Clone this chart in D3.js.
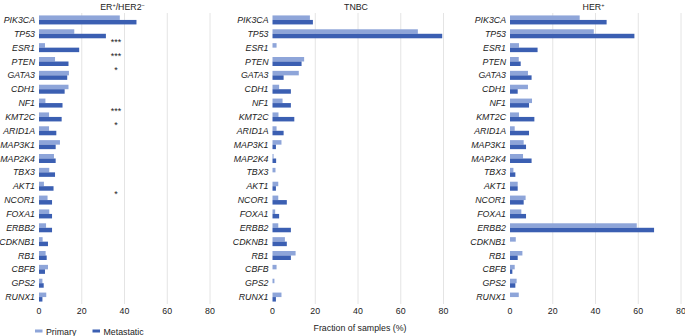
<!DOCTYPE html>
<html>
<head>
<meta charset="utf-8">
<script src="https://cdn.jsdelivr.net/npm/d3@7"></script>
<style>
  body { margin: 0; background: #fff; }
  text { font-family: "Liberation Sans", Arial, sans-serif; fill: #222; }
</style>
</head>
<body>
<svg id="chart"></svg>
<script>
const genes = ["PIK3CA","TP53","ESR1","PTEN","GATA3","CDH1","NF1","KMT2C","ARID1A","MAP3K1","MAP2K4",
  "TBX3","AKT1","NCOR1","FOXA1","ERBB2","CDKNB1","RB1","CBFB","GPS2","RUNX1"];

const erPrimary    = [37.8,16.5,2.8,7.5,14.0,13.8,3.0,4.7,4.7,9.8,7.0,4.8,2.3,4.0,4.8,3.3,1.7,3.1,4.2,1.6,3.4];
const erMetastatic = [45.6,31.3,18.8,13.8,13.2,12.0,11.0,10.6,8.1,7.8,7.8,7.5,6.8,6.1,6.1,6.1,4.2,3.6,2.8,2.2,1.6];
const erStars      = ["","***","***","*","","","***","*","","","","","*","","","","","","","",""];

const tnPrimary    = [17.5,68.0,1.9,14.8,12.3,3.1,4.7,2.8,1.9,4.2,0.5,1.4,2.7,2.7,1.25,2.7,5.8,10.8,1.9,0.9,4.2];
const tnMetastatic = [18.9,79.4,0,13.6,5.2,8.6,8.6,10.2,5.2,1.6,1.7,0,1.6,6.7,3.1,8.6,6.7,8.6,0,0,1.6];

const herPrimary    = [32.6,39.2,4.2,4.1,8.4,8.4,10.3,4.2,2.2,6.4,6.1,1.6,3.6,7.3,5.3,59.3,2.7,5.8,2.2,3.1,4.1];
const herMetastatic = [45.2,58.2,12.9,5.0,10.1,3.6,8.9,11.4,8.9,7.5,10.1,2.5,3.6,6.4,7.5,67.4,0,3.6,1.1,2.5,0];

const ticks = [0, 20, 40, 60, 80];

const width = 685, height = 336;
const svg = d3.select("#chart").attr("width", width).attr("height", height);

const lightColor = "#8ea5d9", darkColor = "#3b5fb2";

const panels = [
  { title: "ER+/HER2−", x0: 39, prim: erPrimary, meta: erMetastatic, stars: erStars },
  { title: "TNBC", x0: 272.5, prim: tnPrimary, meta: tnMetastatic },
  { title: "HER+", x0: 510, prim: herPrimary, meta: herMetastatic }
];

const y = d3.scaleBand().domain(genes).range([13, 304]);
const barH = 4.5;

panels.forEach((p, pi) => {
  const x = d3.scaleLinear().domain([0, 80]).range([p.x0, p.x0 + 171]);
  const g = svg.append("g");

  // grid
  g.selectAll(".grid")
    .data(ticks.slice(1))
    .join("line")
    .attr("x1", d => x(d)).attr("x2", d => x(d))
    .attr("y1", 13).attr("y2", 304)
    .attr("stroke", "#e4e4e4").attr("stroke-width", 1);

  // tick labels
  g.selectAll(".tick")
    .data(ticks)
    .join("text")
    .attr("x", d => x(d)).attr("y", 314)
    .attr("text-anchor", "middle")
    .style("font-size", "8.8px")
    .text(d => d);

  // title
  const t = g.append("text")
    .attr("x", (x(0) + x(80)) / 2 - 2).attr("y", 10)
    .attr("text-anchor", "middle")
    .style("font-size", "8.8px");
  if (pi === 0) {
    t.append("tspan").text("ER");
    t.append("tspan").text("+").attr("dy", -3).style("font-size", "5.5px");
    t.append("tspan").text("/HER2").attr("dy", 3);
    t.append("tspan").text("−").attr("dy", -3).style("font-size", "5.5px");
  } else if (pi === 2) {
    t.append("tspan").text("HER");
    t.append("tspan").text("+").attr("dy", -3).style("font-size", "5.5px");
  } else {
    t.text(p.title);
  }

  // gene labels
  g.selectAll(".gene")
    .data(genes)
    .join("text")
    .attr("x", x(0) - 4)
    .attr("y", d => y(d) + y.bandwidth() / 2 + 3)
    .attr("text-anchor", "end")
    .style("font-size", "8.8px")
    .style("font-style", "italic")
    .text(d => d);

  // primary bars
  g.selectAll(".prim")
    .data(genes)
    .join("rect")
    .attr("x", x(0))
    .attr("y", d => y(d) + y.bandwidth() / 2 - barH)
    .attr("width", (d, i) => x(p.prim[i]) - x(0))
    .attr("height", barH)
    .attr("fill", lightColor);

  // metastatic bars
  g.selectAll(".meta")
    .data(genes)
    .join("rect")
    .attr("x", x(0))
    .attr("y", d => y(d) + y.bandwidth() / 2)
    .attr("width", (d, i) => x(p.meta[i]) - x(0))
    .attr("height", barH)
    .attr("fill", darkColor);

  if (p.stars) {
    g.selectAll(".star")
      .data(genes)
      .join("text")
      .attr("x", x(36))
      .attr("y", d => y(d) + y.bandwidth() / 2 + 11)
      .attr("text-anchor", "middle")
      .style("font-size", "9px")
      .text((d, i) => p.stars[i]);
  }
});

// axis title
svg.append("text")
  .attr("x", 360).attr("y", 331)
  .attr("text-anchor", "middle")
  .style("font-size", "8.8px")
  .text("Fraction of samples (%)");

// legend
const legend = [["Primary", lightColor, 35], ["Metastatic", darkColor, 92.5]];
legend.forEach(([name, col, lx]) => {
  svg.append("rect").attr("x", lx).attr("y", 329.5).attr("width", 7.5).attr("height", 3).attr("fill", col);
  svg.append("text").attr("x", lx + 11).attr("y", 334.5).style("font-size", "8.8px").text(name);
});
</script>
</body>
</html>
